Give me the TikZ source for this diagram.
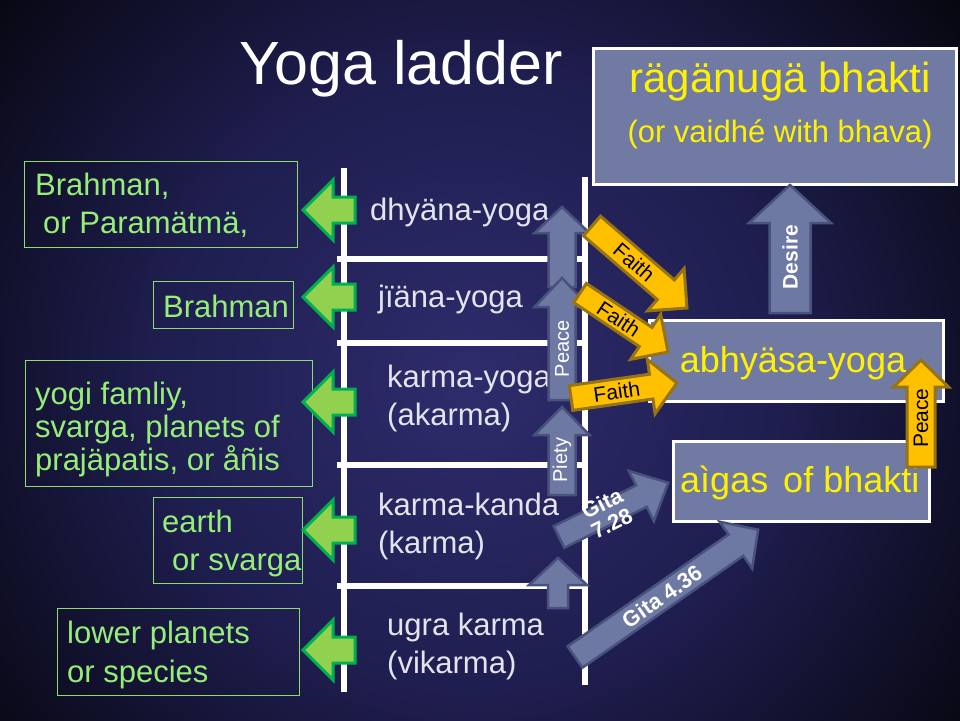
\documentclass[tikz,border=0pt]{standalone}
\usepackage{fontspec}
\setmainfont{Liberation Sans}
\definecolor{bgin}{RGB}{46,44,108}
\definecolor{bgmid}{RGB}{31,30,80}
\definecolor{bgout}{RGB}{5,5,12}
\definecolor{gtext}{RGB}{150,238,120}
\definecolor{gbord}{RGB}{140,220,110}
\definecolor{garrfill}{RGB}{146,208,80}
\definecolor{garrbord}{RGB}{0,176,80}
\definecolor{slate}{RGB}{112,122,162}
\definecolor{slatearr}{RGB}{110,121,163}
\definecolor{slatebord}{RGB}{72,82,124}
\definecolor{gold}{RGB}{255,192,0}
\definecolor{goldbord}{RGB}{150,115,20}
\definecolor{ladtext}{RGB}{228,228,238}
\pgfdeclareradialshading{bgshade}{\pgfpoint{0bp}{0bp}}{color(0bp)=(bgin); color(12bp)=(bgmid); color(25bp)=(bgout); color(50bp)=(bgout)}
\tikzset{
  arrbody/.store in=\abw, arrhead/.store in=\ahw, arrheadlen/.store in=\ahl, lpos/.store in=\alpos,
  lbox/.style={draw=gbord, line width=1pt, inner sep=0pt},
  ltext/.style={text=gtext, inner sep=0pt, font={\fontsize{31}{37}\selectfont}},
  ladtxt/.style={text=ladtext, inner sep=0pt, font={\fontsize{31}{37}\selectfont}},
  rbox/.style={draw=white, fill=slate, line width=3pt, inner sep=0pt},
  rtext/.style={text=yellow, inner sep=0pt, font={\fontsize{36}{42}\selectfont}},
  rail/.style={draw=white, line width=5.5pt},
  garr/.style={fill=garrfill, draw=garrbord, line width=3pt},
  sarr/.style={fill=slatearr, draw=slatebord, line width=2.5pt},
  yarr/.style={fill=gold, draw=goldbord, line width=3pt},
  flab/.style={text=black, inner sep=0pt, font={\fontsize{21}{24}\selectfont}},
  wlab/.style={text=white, inner sep=0pt, font={\fontsize{20}{23}\selectfont}},
  wblab/.style={text=white, inner sep=0pt, align=center, font={\fontsize{22}{22}\selectfont\bfseries}},
  nolab/.style={inner sep=0pt, minimum size=0pt},
}
% #1 look, #2 dims, #3 name, #4 tail, #5 angle, #6 length, #7 label, #8 label style
\newcommand\blockarr[8]{%
  \begin{scope}[shift={#4},rotate=#5,lpos=0.5,#2]
    \path[#1] (0,{-\abw/2}) -- ({#6-\ahl},{-\abw/2}) -- ({#6-\ahl},{-\ahw/2}) -- (#6,0)
      -- ({#6-\ahl},{\ahw/2}) -- ({#6-\ahl},{\abw/2}) -- (0,{\abw/2}) -- cycle;
    \node[#8,rotate=#5] (#3) at ({\alpos*(#6-\ahl)},0) {#7};
  \end{scope}}
\begin{document}
\begin{tikzpicture}[x=1pt,y=-1pt]
\useasboundingbox (0,0) rectangle (960,720);
\begin{scope}
  \clip (0,0) rectangle (960,720);
  \fill[bgout] (0,0) rectangle (960,720);
  \shade[shading=bgshade] (470,380) circle (640);
\end{scope}

% title
\node[text=white, inner sep=0pt, anchor=base, font={\fontsize{61}{70}\selectfont}] (title) at (401,84) {Yoga ladder};

% left boxes
\node[lbox, anchor=north west, minimum width=273pt, minimum height=86pt] (b1) at (24,161) {};
\node[ltext, anchor=base west] (b1a) at (35,195) {Brahman,};
\node[ltext, anchor=base west] (b1b) at (43,233) {or Paramätmä,};

\node[lbox, anchor=north west, minimum width=140pt, minimum height=47pt] (b2) at (153,281) {};
\node[ltext, anchor=base west] (b2a) at (163,317) {Brahman};

\node[lbox, anchor=north west, minimum width=287pt, minimum height=126pt] (b3) at (25,360) {};
\node[ltext, anchor=base west] (b3a) at (35,404) {yogi famliy,};
\node[ltext, anchor=base west] (b3b) at (35,437) {svarga, planets of};
\node[ltext, anchor=base west] (b3c) at (35,470) {prajäpatis, or åñis};

\node[lbox, anchor=north west, minimum width=149pt, minimum height=86pt] (b4) at (153,497) {};
\node[ltext, anchor=base west] (b4a) at (162,532) {earth};
\node[ltext, anchor=base west] (b4b) at (172,570) {or svarga};

\node[lbox, anchor=north west, minimum width=242pt, minimum height=87pt] (b5) at (57,608) {};
\node[ltext, anchor=base west] (b5a) at (67,643) {lower planets};
\node[ltext, anchor=base west] (b5b) at (67,682) {or species};

% ladder
\coordinate (lt) at (344,168); \coordinate (lb) at (344,692);
\coordinate (rt) at (585,177); \coordinate (rb) at (585,685);
\draw[rail] (lt) -- (lb);
\draw[rail] (rt) -- (rb);
\foreach \yy in {259,343,465,586} {\draw[rail] (337,\yy) -- (588,\yy);}

\node[ladtxt, anchor=base west] (l1) at (370,220) {dhyäna-yoga};
\node[ladtxt, anchor=base west] (l2) at (378,307) {jïäna-yoga};
\node[ladtxt, anchor=base west] (l3a) at (387,387) {karma-yoga};
\node[ladtxt, anchor=base west] (l3b) at (387,425) {(akarma)};
\node[ladtxt, anchor=base west] (l4a) at (378,515) {karma-kanda};
\node[ladtxt, anchor=base west] (l4b) at (378,553) {(karma)};
\node[ladtxt, anchor=base west] (l5a) at (387,635) {ugra karma};
\node[ladtxt, anchor=base west] (l5b) at (387,673) {(vikarma)};

% right boxes
\node[rbox, anchor=north west, minimum width=363pt, minimum height=136pt] (rg) at (592,47) {};
\node[rtext, anchor=base, font={\fontsize{42}{48}\selectfont}] (rga) at (780,92) {rägänugä bhakti};
\node[rtext, anchor=base, font={\fontsize{31}{36}\selectfont}] (rgb) at (780,142) {(or vaidhé with bhava)};

\node[rbox, anchor=north west, minimum width=294pt, minimum height=81pt] (ab) at (648,319) {};
\node[rtext, anchor=base] (aba) at (793,372) {abhyäsa-yoga};

\node[rbox, anchor=north west, minimum width=256pt, minimum height=80pt] (ag) at (672,440) {};
\node[rtext, anchor=base west] (aga) at (680,492) {aìgas\kern5pt{} of bhakti};

% green arrows
\foreach \yc [count=\i] in {210,297,402,530,650} {
  \blockarr{garr}{arrbody=26,arrhead=60,arrheadlen=30}{ga\i}{(355,\yc)}{180}{52}{}{nolab}
}

% ladder arrows
\blockarr{sarr}{arrbody=27,arrhead=55,arrheadlen=26}{va1}{(562,287)}{90}{80}{}{nolab}
\blockarr{sarr}{arrbody=27,arrhead=55,arrheadlen=29,lpos=0.55}{va2}{(562,400)}{90}{122}{Peace}{wlab}
\blockarr{sarr}{arrbody=27,arrhead=55,arrheadlen=28,lpos=0.58}{va3}{(562,495)}{90}{88}{Piety}{wlab}
\blockarr{sarr}{arrbody=20,arrhead=58,arrheadlen=27}{va4}{(558,608)}{90}{50}{}{nolab}

% desire
\blockarr{sarr}{arrbody=41,arrhead=82,arrheadlen=38,lpos=0.62}{des}{(790,313)}{90}{128}{Desire}{wblab,font={\fontsize{21}{24}\selectfont\bfseries}}

% gita arrows
\blockarr{sarr}{arrbody=24,arrhead=56,arrheadlen=30,lpos=0.58}{g728}{(559,537)}{26.4}{122}{Gita\\7.28}{wblab}
\blockarr{sarr}{arrbody=26,arrhead=57,arrheadlen=27,lpos=0.54}{g436}{(575,657)}{34.8}{223}{Gita 4.36}{wblab}

% faith arrows
\blockarr{yarr}{arrbody=26,arrhead=56,arrheadlen=28,lpos=0.57}{f1}{(592,226)}{-40.8}{125.5}{Faith}{flab}
\blockarr{yarr}{arrbody=23,arrhead=54,arrheadlen=27,lpos=0.59}{f2}{(580,293)}{-33.8}{106}{Faith}{flab}
\blockarr{yarr}{arrbody=25,arrhead=55,arrheadlen=26,lpos=0.57}{f3}{(571,398)}{8.1}{107}{Faith}{flab}

% peace yellow
\blockarr{yarr}{arrbody=28,arrhead=55,arrheadlen=27,lpos=0.61}{py}{(921,467)}{90}{107}{Peace}{flab}
\end{tikzpicture}
\end{document}
